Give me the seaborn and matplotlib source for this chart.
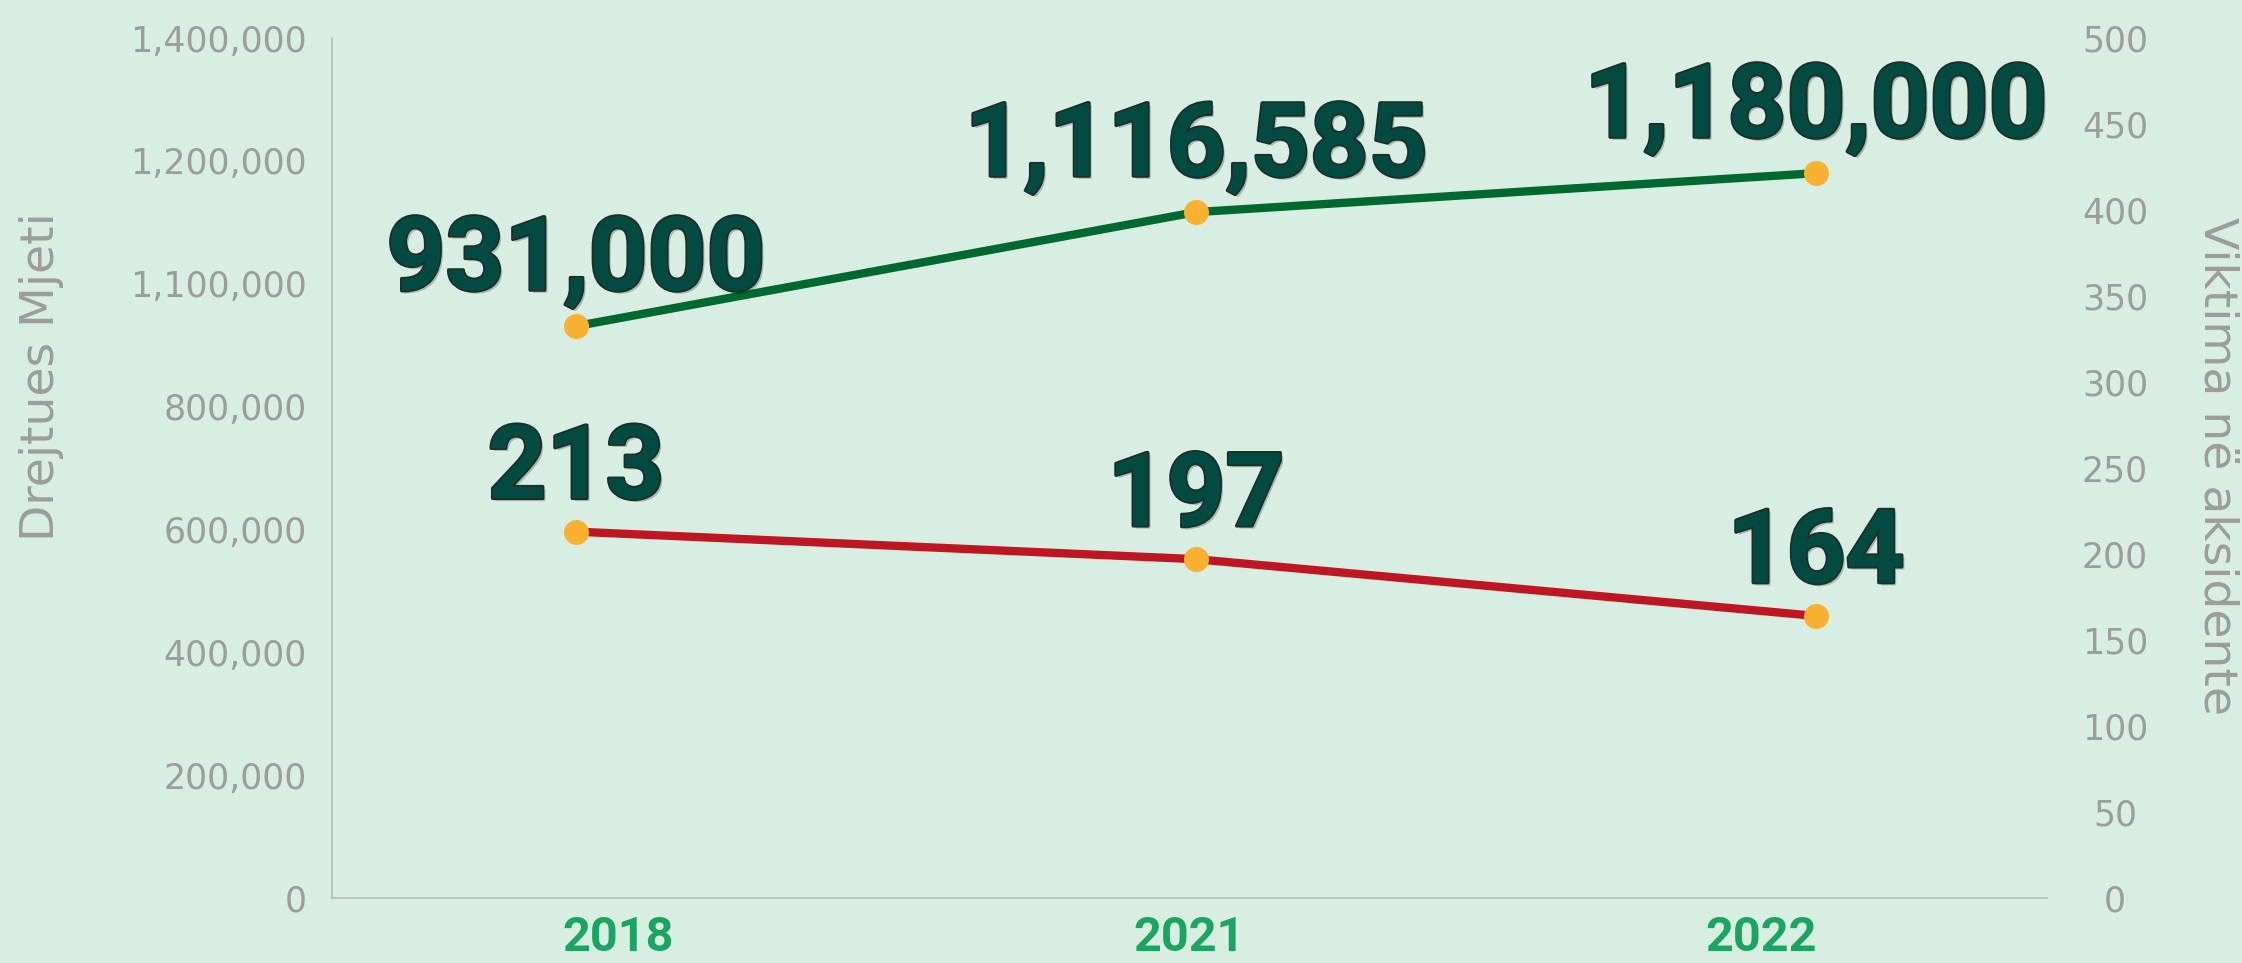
import pandas as pd
import numpy as np
import matplotlib
matplotlib.use("Agg")
import matplotlib.pyplot as plt
import matplotlib.patheffects as pe
import seaborn as sns

# --- data ---
years = ["2018", "2021", "2022"]
drivers = [931000, 1116585, 1180000]          # Drejtues Mjeti (left axis)
victims = [213, 197, 164]                     # Viktima në aksidente (right axis)
left_ticks = [0, 200000, 400000, 600000, 800000, 1000000, 1200000, 1400000]
left_tick_labels = ["0", "200,000", "400,000", "600,000", "800,000",
                    "1,100,000", "1,200,000", "1,400,000"]
right_ticks = list(range(0, 501, 50))

# --- colours ---
BG = "#d8eee2"
GRAY = "#9d9d9d"
SPINE = "#b9bdba"
GREEN_LINE = "#00692f"
RED_LINE = "#be1622"
MARKER = "#f8b133"
LABEL = "#034b40"
YEAR = "#1aa660"

sns.set_style("white")
plt.rcParams["font.family"] = ["DejaVu Sans"]

df = pd.DataFrame({"year": years, "drivers": drivers, "victims": victims})

fig = plt.figure(figsize=(22.42, 9.63), dpi=100, facecolor=BG)
ax = fig.add_axes([0.1481, 0.0675, 0.7649, 0.893])
ax.set_facecolor(BG)
ax2 = ax.twinx()
ax2.set_facecolor("none")

line_kw = dict(linewidth=6, marker="o", markersize=18, markerfacecolor=MARKER,
               markeredgewidth=0)
sns.lineplot(data=df, x="year", y="drivers", ax=ax, color=GREEN_LINE, **line_kw)
sns.lineplot(data=df, x="year", y="victims", ax=ax2, color=RED_LINE, **line_kw)

ax.set_xlim(-0.3935, 2.3726)
ax.set_ylim(0, 1400000)
ax2.set_ylim(0, 500)

# year labels sit in the middle of three equal slots of the x range
x0, x1 = ax.get_xlim()
ax.set_xticks(x0 + (np.arange(len(years)) + 0.5) * (x1 - x0) / len(years))
ax.set_xticklabels(years, family=["Roboto", "DejaVu Sans"], fontweight="bold",
                   fontsize=35, color=YEAR)
ax.tick_params(axis="x", length=0, pad=12)

ax.set_yticks(left_ticks)
ax.set_yticklabels(left_tick_labels, fontsize=25, color=GRAY)
ax.tick_params(axis="y", length=0, pad=18)

ax2.set_yticks(right_ticks)
ax2.set_yticklabels([str(t) for t in right_ticks], fontsize=25, color=GRAY,
                    ha="center")
ax2.tick_params(axis="y", length=0, pad=49)

ax.set_xlabel("")
ax.set_ylabel("")
ax2.set_ylabel("")

for a in (ax, ax2):
    for s in a.spines.values():
        s.set_visible(False)
ax.spines["left"].set_visible(True)
ax.spines["bottom"].set_visible(True)
ax.spines["left"].set_color(SPINE)
ax.spines["bottom"].set_color(SPINE)
ax.spines["left"].set_linewidth(1.2)
ax.spines["bottom"].set_linewidth(1.2)
ax.grid(False)
ax2.grid(False)

# big value labels above the points
effects = [pe.SimplePatchShadow(offset=(2, -2), shadow_rgbFace="black", alpha=0.22),
           pe.Stroke(linewidth=2.5, foreground="#1e2d28"), pe.Normal()]
label_kw = dict(textcoords="offset points", ha="center", va="baseline",
                fontsize=74, fontweight="bold", family=["Roboto", "DejaVu Sans"],
                color=LABEL, path_effects=effects)
for i, v in enumerate(drivers):
    ax.annotate(f"{v:,}", (i, v), xytext=(0, 26), **label_kw)
for i, v in enumerate(victims):
    ax2.annotate(f"{v:,}", (i, v), xytext=(0, 24), **label_kw)

# axis titles
fig.text(42 / 2242, 1 - 377 / 963, "Drejtues Mjeti", rotation=90,
         ha="center", va="center", fontsize=34, color=GRAY)
fig.text(2217 / 2242, 1 - 466 / 963, "Viktima në aksidente", rotation=270,
         ha="center", va="center", fontsize=34, color=GRAY)

fig.savefig("out.png", dpi=100, facecolor=BG)
